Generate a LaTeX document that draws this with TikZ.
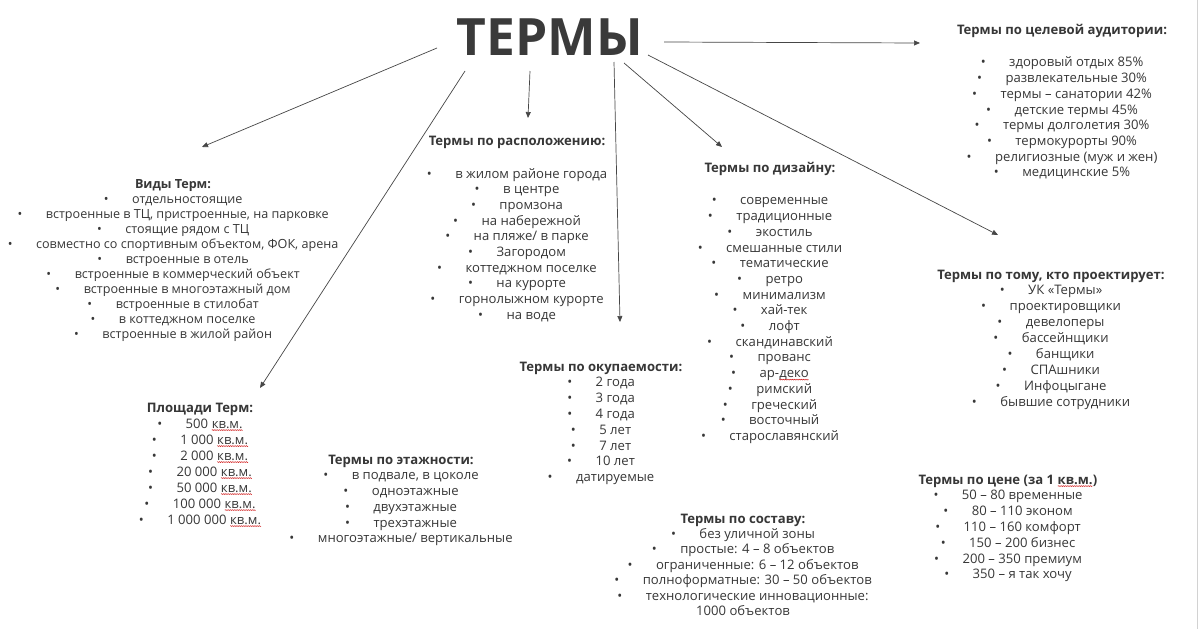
\documentclass[tikz,border=0pt]{standalone}
\usepackage{fontspec}
\setmainfont{Open Sans}
\usetikzlibrary{arrows.meta,decorations.pathmorphing}
\definecolor{txt}{RGB}{55,55,55}
\definecolor{ttl}{RGB}{58,58,58}
\definecolor{arr}{RGB}{70,70,70}
\newcommand\bu[1]{\makebox[5pt][c]{•}\hspace{23.5pt}#1}
\newcommand\wv[1]{\tikz[baseline=(w.base)]{\node[inner sep=0pt,outer sep=0pt](w){#1};\draw[red!80!black,line width=0.35pt,decorate,decoration={snake,amplitude=0.5pt,segment length=1.8pt}]([yshift=-2pt]w.base west)--([yshift=-2pt]w.base east);}}
\tikzset{
  grp/.style={align=center, anchor=north, inner sep=0pt, text=txt, font=\fontsize{13.1}{15.7}\selectfont},
  conn/.style={draw=arr, line width=0.7pt, -{Triangle[length=6pt,width=5pt]}}
}
\begin{document}
\begin{tikzpicture}[x=1pt,y=-1pt]
\useasboundingbox (0,0) rectangle (1200,629);
\fill[white] (0,0) rectangle (1200,629);
\draw[gray!35, line width=0.8pt] (1197,0) -- (1197,629);

\node[anchor=base, inner sep=0pt, text=ttl, font=\fontsize{51.5}{60}\bfseries\selectfont] (title) at (550,55) {ТЕРМЫ};

\node[grp, font=\fontsize{12.6}{15}\selectfont] (vidy) at (173,179) {\textbf{Виды Терм:}\\
\bu{отдельностоящие}\\
\bu{встроенные в ТЦ, пристроенные, на парковке}\\
\bu{стоящие рядом с ТЦ}\\
\bu{совместно со спортивным объектом, ФОК, арена}\\
\bu{встроенные в отель}\\
\bu{встроенные в коммерческий объект}\\
\bu{встроенные в многоэтажный дом}\\
\bu{встроенные в стилобат}\\
\bu{в коттеджном поселке}\\
\bu{встроенные в жилой район}};

\node[grp] (rasp) at (517,135.5) {\textbf{Термы по расположению:}\\[17.3pt]
\bu{в жилом районе города}\\
\bu{в центре}\\
\bu{промзона}\\
\bu{на набережной}\\
\bu{на пляже/ в парке}\\
\bu{Загородом}\\
\bu{коттеджном поселке}\\
\bu{на курорте}\\
\bu{горнолыжном курорте}\\
\bu{на воде}};

\node[grp] (diz) at (770,162.5) {\textbf{Термы по дизайну:}\\[16.3pt]
\bu{современные}\\
\bu{традиционные}\\
\bu{экостиль}\\
\bu{смешанные стили}\\
\bu{тематические}\\
\bu{ретро}\\
\bu{минимализм}\\
\bu{хай-тек}\\
\bu{лофт}\\
\bu{скандинавский}\\
\bu{прованс}\\
\bu{ар-\wv{деко}}\\
\bu{римский}\\
\bu{греческий}\\
\bu{восточный}\\
\bu{старославянский}};

\node[grp] (aud) at (1062,24.5) {\textbf{Термы по целевой аудитории:}\\[16.3pt]
\bu{здоровый отдых 85\%}\\
\bu{развлекательные 30\%}\\
\bu{термы – санатории 42\%}\\
\bu{детские термы 45\%}\\
\bu{термы долголетия 30\%}\\
\bu{термокурорты 90\%}\\
\bu{религиозные (муж и жен)}\\
\bu{медицинские 5\%}};

\node[grp, font=\fontsize{13.1}{15.9}\selectfont] (proj) at (1051,269.5) {\textbf{Термы по тому, кто проектирует:}\\
\bu{УК «Термы»}\\
\bu{проектировщики}\\
\bu{девелоперы}\\
\bu{бассейнщики}\\
\bu{банщики}\\
\bu{СПАшники}\\
\bu{Инфоцыгане}\\
\bu{бывшие сотрудники}};

\node[grp, font=\fontsize{13.1}{16}\selectfont] (ploshch) at (200,402.5) {\textbf{Площади Терм:}\\
\bu{500 \wv{кв.м.}}\\
\bu{1 000 \wv{кв.м.}}\\
\bu{2 000 \wv{кв.м.}}\\
\bu{20 000 \wv{кв.м.}}\\
\bu{50 000 \wv{кв.м.}}\\
\bu{100 000 \wv{кв.м.}}\\
\bu{1 000 000 \wv{кв.м.}}};

\node[grp, font=\fontsize{13.1}{15.75}\selectfont] (etazh) at (401,454.5) {\textbf{Термы по этажности:}\\
\bu{в подвале, в цоколе}\\
\bu{одноэтажные}\\
\bu{двухэтажные}\\
\bu{трехэтажные}\\
\bu{многоэтажные/ вертикальные}};

\node[grp, font=\fontsize{13.1}{15.8}\selectfont] (okup) at (601,361.5) {\textbf{Термы по окупаемости:}\\
\bu{2 года}\\
\bu{3 года}\\
\bu{4 года}\\
\bu{5 лет}\\
\bu{7 лет}\\
\bu{10 лет}\\
\bu{датируемые}};

\node[grp, font=\fontsize{13.1}{15.4}\selectfont] (sost) at (743,513.5) {\textbf{Термы по составу:}\\
\bu{без уличной зоны}\\
\bu{простые: 4 – 8 объектов}\\
\bu{ограниченные: 6 – 12 объектов}\\
\bu{полноформатные: 30 – 50 объектов}\\
\bu{технологические инновационные:}\\
1000 объектов};

\node[grp, font=\fontsize{13.1}{15.8}\selectfont] (cena) at (1008,474.5) {\textbf{Термы по цене (за 1 \wv{кв.м.})}\\
\bu{50 – 80 временные}\\
\bu{80 – 110 эконом}\\
\bu{110 – 160 комфорт}\\
\bu{150 – 200 бизнес}\\
\bu{200 – 350 премиум}\\
\bu{350 – я так хочу}};

\coordinate (s1) at (437,48);  \coordinate (e1) at (202,147);
\coordinate (s2) at (465,71);  \coordinate (e2) at (260,388);
\coordinate (s3) at (530,71);  \coordinate (e3) at (528,118);
\coordinate (s4) at (614,62);  \coordinate (e4) at (620,322);
\coordinate (s5) at (624,63);  \coordinate (e5) at (722,147);
\coordinate (s6) at (648,55);  \coordinate (e6) at (998,235);
\coordinate (s7) at (664,42);  \coordinate (e7) at (920,43);

\draw[conn] (s1) -- (e1);
\draw[conn] (s2) -- (e2);
\draw[conn] (s3) -- (e3);
\draw[conn] (s4) -- (e4);
\draw[conn] (s5) -- (e5);
\draw[conn] (s6) -- (e6);
\draw[conn] (s7) -- (e7);
\end{tikzpicture}
\end{document}
